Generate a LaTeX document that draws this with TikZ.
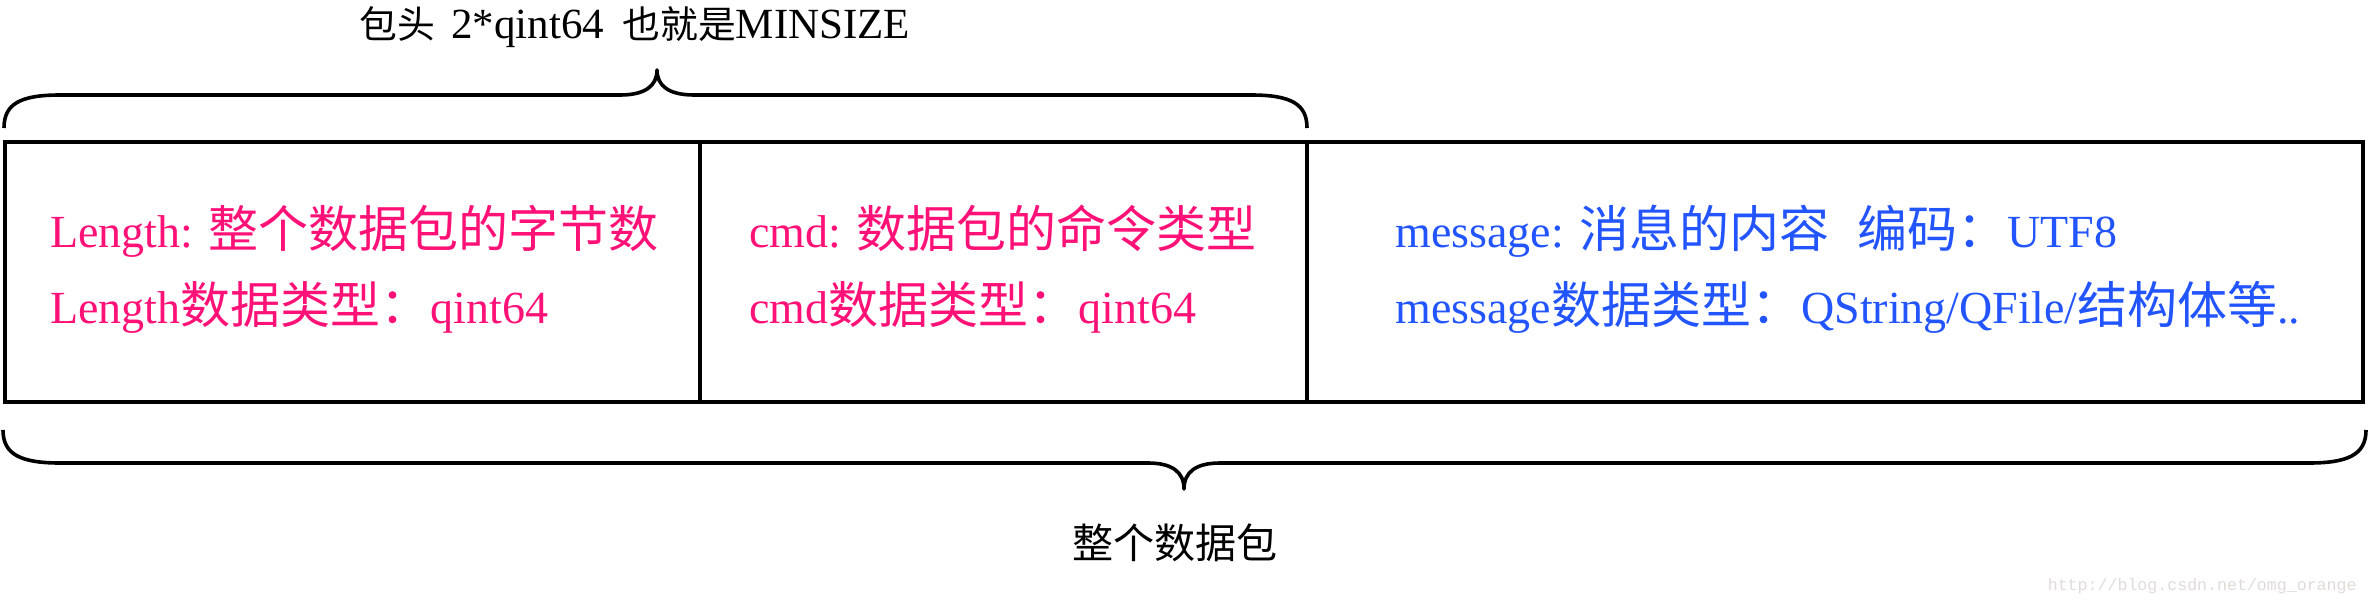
\documentclass[tikz,border=0pt]{standalone}
\usepackage{fontspec}
\setmainfont{Liberation Serif}
\newfontfamily\cjk{Noto Sans CJK SC}[Scale=1.087]
\newfontfamily\wmfont{Liberation Mono}
\newcommand\zh[1]{{\cjk #1}}
\newcommand\zhl[1]{{\cjk\fontsize{17.4pt}{20pt}\selectfont #1}}
\definecolor{pinktxt}{RGB}{255,17,119}
\definecolor{bluetxt}{RGB}{34,85,255}
\definecolor{wmgray}{RGB}{222,220,216}
\tikzset{
  cellbox/.style={draw=black, line width=2pt},
  brace/.style={draw=black, line width=1.8pt, line join=round},
  celltext/.style={inner sep=0pt, anchor=base west, font=\fontsize{23pt}{27pt}\selectfont},
  pinkt/.style={celltext, text=pinktxt},
  bluet/.style={celltext, text=bluetxt},
  labeltext/.style={inner sep=0pt, text=black}
}
\begin{document}
\begin{tikzpicture}[x=0.5pt, y=-0.5pt]
\useasboundingbox (0,0) rectangle (2369,605);
% cells
\draw[cellbox] (5,141.5) rectangle (700,402);
\draw[cellbox] (700,141.5) rectangle (1307,402);
\draw[cellbox] (1307,141.5) rectangle (2363,402);
% texts in cells
\node[pinkt] (l1) at (50,247) {Length: \zh{整个数据包的字节数}};
\node[pinkt] (l2) at (50,323) {Length\zh{数据类型：}qint64};
\node[pinkt] (c1) at (749,247) {cmd: \zh{数据包的命令类型}};
\node[pinkt] (c2) at (749,323) {cmd\zh{数据类型：}qint64};
\node[bluet] (m1) at (1395,247) {message: \zh{消息的内容}\hspace{14pt}\zh{编码：}UTF8};
\node[bluet] (m2) at (1395,323) {message\zh{数据类型：}QString/QFile/\zh{结构体等}..};
% top brace
\coordinate (tbL) at (4,128);
\coordinate (tbR) at (1307,128);
\coordinate (tbT) at (657,70);
\draw[brace] (tbL) .. controls (4,104) and (20,95) .. (60,95) -- (620,95)
  .. controls (645,95) and (657,86) .. (tbT)
  .. controls (657,86) and (669,95) .. (694,95) -- (1251,95)
  .. controls (1291,95) and (1307,104) .. (tbR);
\node[labeltext, anchor=base, font=\fontsize{21.5pt}{24pt}\selectfont] (toplabel) at (635,38)
  {\zhl{包头}\hspace{8pt}2*qint64\hspace{9pt}\zhl{也就是}MINSIZE};
% bottom brace
\coordinate (bbL) at (3,430);
\coordinate (bbR) at (2366,430);
\coordinate (bbT) at (1184,489);
\draw[brace] (bbL) .. controls (3,454) and (20,463) .. (60,463) -- (1148,463)
  .. controls (1172,463) and (1184,472) .. (bbT)
  .. controls (1184,472) and (1196,463) .. (1220,463) -- (2309,463)
  .. controls (2349,463) and (2366,454) .. (bbR);
\node[labeltext, font=\fontsize{18.9pt}{22pt}\selectfont] (botlabel) at (1175,543) {\zh{整个数据包}};
% watermark
\node[inner sep=0pt, anchor=base east, text=wmgray, font=\wmfont\fontsize{8.3pt}{10pt}\selectfont] (wm) at (2357,590) {http://blog.csdn.net/omg\_orange};
\end{tikzpicture}
\end{document}
